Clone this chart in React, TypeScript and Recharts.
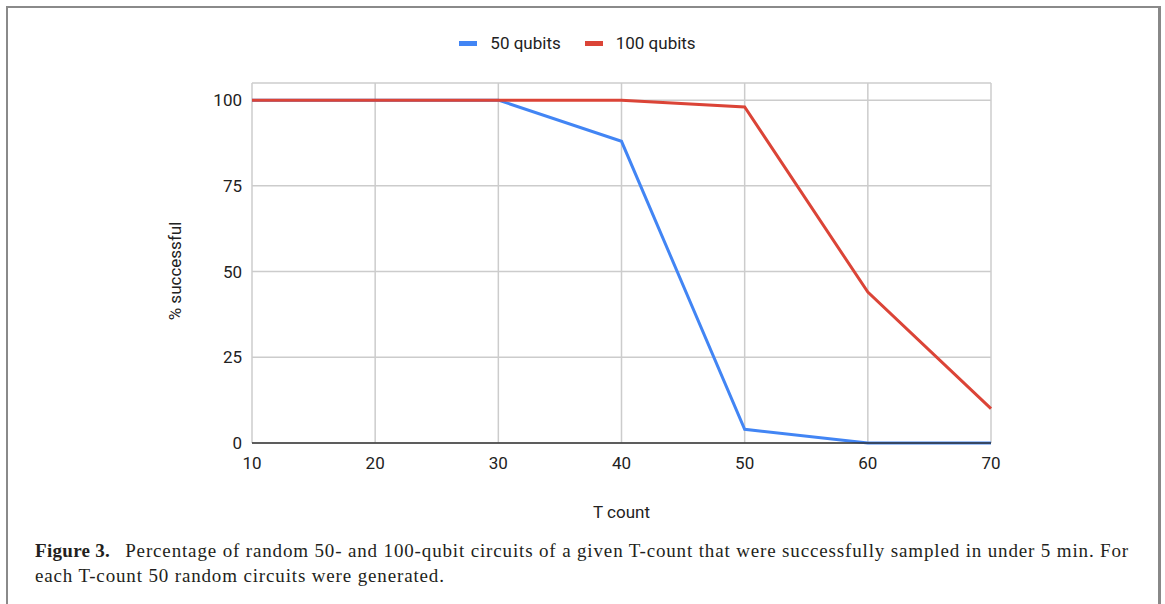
import { LineChart, Line, XAxis, YAxis, CartesianGrid, Legend, Label } from "recharts";

// ─── Data ────────────────────────────────────────────────
const tCounts = [10, 20, 30, 40, 50, 60, 70];
const qubits50 = [100, 100, 100, 88, 4, 0, 0];
const qubits100 = [100, 100, 100, 100, 98, 44, 10];
const yTicks = [0, 25, 50, 75, 100];

const seriesInfo = [
  { key: "q50", name: "50 qubits", color: "#4285F4" },
  { key: "q100", name: "100 qubits", color: "#DB4437" },
];

const chartData = tCounts.map((t, i) => ({ t, q50: qubits50[i], q100: qubits100[i] }));

const FONT = "Roboto, 'Noto Sans', sans-serif";
const TEXT = "#222222";

// ─── Legend ──────────────────────────────────────────────
function TopLegend() {
  return (
    <div
      style={{
        height: 24,
        display: "flex",
        justifyContent: "center",
        alignItems: "center",
        fontFamily: FONT,
        fontSize: 17,
        color: TEXT,
      }}
    >
      {seriesInfo.map((s, i) => (
        <div key={s.key} style={{ display: "flex", alignItems: "center", marginLeft: i ? 24 : 0 }}>
          <span style={{ width: 18, height: 5, background: s.color, marginRight: 13, display: "inline-block" }} />
          <span>{s.name}</span>
        </div>
      ))}
    </div>
  );
}

export default function App() {
  return (
    <div
      style={{
        position: "absolute",
        left: 0,
        top: 0,
        width: 1165,
        height: 604,
        overflow: "hidden",
        background: "#fff",
      }}
    >
      {/* frame */}
      <div
        style={{
          position: "absolute",
          left: 6,
          top: 6,
          width: 1155,
          height: 640,
          boxSizing: "border-box",
          borderLeft: "2px solid #8a8a8a",
          borderTop: "2px solid #8a8a8a",
          borderRight: "3px solid #888",
        }}
      />

      <div style={{ position: "absolute", left: 0, top: 0 }}>
        <LineChart
          width={1165}
          height={540}
          data={chartData}
          margin={{ top: 59, right: 174, left: 98, bottom: 17 }}
        >
          <CartesianGrid stroke="#cccccc" strokeWidth={1.5} />
          <XAxis
            dataKey="t"
            type="number"
            domain={[10, 70]}
            ticks={tCounts}
            height={80}
            tickLine={false}
            tickSize={0}
            tickMargin={14}
            axisLine={{ stroke: "#333", strokeWidth: 1.5 }}
            tick={{ fontSize: 17, fill: TEXT, fontFamily: FONT }}
          >
            <Label
              content={({ viewBox }: any) => (
                <text
                  x={viewBox.x + viewBox.width / 2}
                  y={viewBox.y + 69}
                  textAnchor="middle"
                  dominantBaseline="central"
                  fontSize={17}
                  fill={TEXT}
                  fontFamily={FONT}
                >
                  T count
                </text>
              )}
            />
          </XAxis>
          <YAxis
            type="number"
            domain={[0, 105]}
            ticks={yTicks}
            width={154}
            axisLine={false}
            tickLine={false}
            tickSize={0}
            tickMargin={10}
            tick={{ fontSize: 17, fill: TEXT, fontFamily: FONT }}
          >
            <Label
              content={({ viewBox }: any) => {
                const cx = viewBox.x + viewBox.width / 2;
                const cy = viewBox.y + viewBox.height / 2 + 8;
                return (
                  <text
                    x={cx}
                    y={cy}
                    transform={`rotate(-90, ${cx}, ${cy})`}
                    textAnchor="middle"
                    dominantBaseline="central"
                    fontSize={17}
                    fill={TEXT}
                    fontFamily={FONT}
                  >
                    % successful
                  </text>
                );
              }}
            />
          </YAxis>
          <Legend
            verticalAlign="top"
            content={<TopLegend />}
            wrapperStyle={{ top: 31, left: 0, width: 1155 }}
          />
          {seriesInfo.map((s) => (
            <Line
              key={s.key}
              type="linear"
              dataKey={s.key}
              name={s.name}
              stroke={s.color}
              strokeWidth={3}
              dot={false}
              activeDot={false}
              isAnimationActive={false}
            />
          ))}
        </LineChart>
      </div>

      {/* caption */}
      <div
        style={{
          position: "absolute",
          left: 35,
          top: 538,
          fontFamily: "'Liberation Serif', 'DejaVu Serif', serif",
          fontSize: 19,
          lineHeight: "25px",
          color: "#231f20",
          whiteSpace: "nowrap",
        }}
      >
        <b style={{ letterSpacing: "0.3px" }}>Figure 3.</b>
        <span style={{ letterSpacing: "0.85px", marginLeft: 15 }}>
          Percentage of random 50- and 100-qubit circuits of a given T-count that were successfully sampled in under 5 min. For
        </span>
        <br />
        <span style={{ letterSpacing: "0.85px" }}>each T-count 50 random circuits were generated.</span>
      </div>
    </div>
  );
}
